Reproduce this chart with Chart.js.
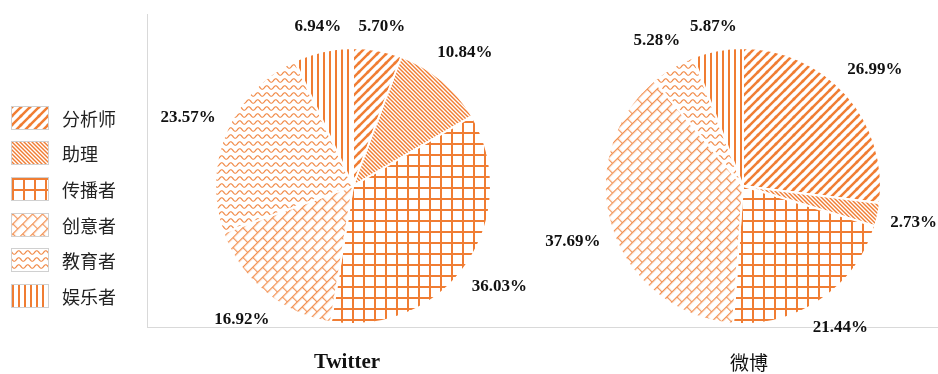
<!DOCTYPE html>
<html>
<head>
<meta charset="utf-8">
<script src="https://cdn.jsdelivr.net/npm/chart.js@4"></script>
<style>
  body { margin: 0; background: #fff; width: 938px; height: 374px; overflow: hidden; position: relative; }
  #frame { position: absolute; left: 147px; top: 14px; width: 791px; height: 313px;
           border-left: 1px solid #d9d9d9; border-bottom: 1px solid #d9d9d9; }
  canvas.pie { position: absolute; top: 0; }
  #legend { position: absolute; left: 11px; top: 100px; }
  .row { display: flex; align-items: center; height: 35.6px; }
  .row canvas { border: 1px solid #d0d0d0; box-sizing: border-box; }
  .row span { margin-left: 13px; font: 18px "Noto Sans CJK SC"; color: #222; }
  .title { position: absolute; top: 349px; transform: translateX(-50%); color: #111; }
</style>
</head>
<body>
<div id="frame"></div>
<div id="legend"></div>
<canvas id="twitterChart" class="pie" width="420" height="372" style="left:143px"></canvas>
<canvas id="weiboChart" class="pie" width="450" height="372" style="left:488px"></canvas>
<div class="title" style="left:347px; font: bold 21px 'Liberation Serif';">Twitter</div>
<div class="title" style="left:749px; top:348px; font: 19px 'Noto Sans CJK SC';">微博</div>

<script>
const roles = ['分析师', '助理', '传播者', '创意者', '教育者', '娱乐者'];
const twitterShare = [5.70, 10.84, 36.03, 16.92, 23.57, 6.94];
const weiboShare = [26.99, 2.73, 21.44, 37.69, 5.28, 5.87];

const orange = '#f07d33';

// build one tile per role and turn it into a pattern
const makeTile = (w, h, draw) => {
  const c = document.createElement('canvas');
  c.width = w; c.height = h;
  const ctx = c.getContext('2d');
  ctx.strokeStyle = orange;
  ctx.lineCap = 'square';
  draw(ctx, w, h);
  return c;
};

const tiles = [
  // forward diagonal, thick
  makeTile(9, 9, (ctx, w, h) => {
    ctx.lineWidth = 2.5;
    [[0, h, w, 0], [-w, h, 0, 0], [w, h, 2 * w, 0], [0, 2 * h, w, h], [0, 0, w, -h]].forEach(l => {
      ctx.beginPath(); ctx.moveTo(l[0], l[1]); ctx.lineTo(l[2], l[3]); ctx.stroke();
    });
  }),
  // back diagonal, thin and dense
  makeTile(4, 4, (ctx, w, h) => {
    ctx.lineWidth = 1.4;
    [[0, 0, w, h], [-w, 0, 0, h], [w, 0, 2 * w, h]].forEach(l => {
      ctx.beginPath(); ctx.moveTo(l[0], l[1]); ctx.lineTo(l[2], l[3]); ctx.stroke();
    });
  }),
  // grid
  makeTile(11, 11, (ctx, w, h) => {
    ctx.fillStyle = orange;
    ctx.fillRect(0, 0, w, 2);
    ctx.fillRect(0, 0, 2, h);
  }),
  // bricks (rotated later)
  makeTile(14, 14, (ctx, w, h) => {
    ctx.lineWidth = 1.1;
    ctx.lineCap = 'butt';
    ctx.globalAlpha = 0.85;
    ctx.beginPath();
    ctx.moveTo(0, 0.6); ctx.lineTo(w, 0.6);
    ctx.moveTo(0, 7.6); ctx.lineTo(w, 7.6);
    ctx.moveTo(0.6, 0); ctx.lineTo(0.6, 7);
    ctx.moveTo(7.6, 7); ctx.lineTo(7.6, 14);
    ctx.stroke();
  }),
  // waves
  makeTile(9, 7, (ctx, w, h) => {
    ctx.lineWidth = 1.2;
    ctx.lineCap = 'butt';
    ctx.globalAlpha = 0.9;
    ctx.beginPath();
    for (let x = -1; x <= w + 1; x += 0.5) {
      const y = 3.5 + 1.8 * Math.sin(x / w * Math.PI * 2);
      if (x === -1) ctx.moveTo(x, y); else ctx.lineTo(x, y);
    }
    ctx.stroke();
  }),
  // vertical lines
  makeTile(6.5, 6, (ctx, w, h) => {
    ctx.fillStyle = orange;
    ctx.fillRect(0, 0, 2, h);
  }),
];

const makePatterns = (ctx) => tiles.map((t, i) => {
  const p = ctx.createPattern(t, 'repeat');
  if (i === 3) p.setTransform(new DOMMatrix().rotate(-45));
  return p;
});

// legend as html, boxes filled with the same patterns
const legend = document.getElementById('legend');
roles.forEach((name, i) => {
  const row = document.createElement('div');
  row.className = 'row';
  const box = document.createElement('canvas');
  box.width = 36; box.height = 22;
  const bctx = box.getContext('2d');
  bctx.fillStyle = makePatterns(bctx)[i];
  bctx.fillRect(0, 0, 36, 22);
  const label = document.createElement('span');
  label.textContent = name;
  row.appendChild(box);
  row.appendChild(label);
  legend.appendChild(row);
});

// percentage labels just outside each slice
const outsideLabels = {
  id: 'outsideLabels',
  afterDatasetsDraw(chart) {
    const ctx = chart.ctx;
    const meta = chart.getDatasetMeta(0);
    const values = chart.data.datasets[0].data;
    ctx.save();
    ctx.font = 'bold 17px "Liberation Serif"';
    ctx.fillStyle = '#111';
    ctx.textAlign = 'center';
    ctx.textBaseline = 'middle';
    meta.data.forEach((arc, i) => {
      const { x, y, startAngle, endAngle, outerRadius } = arc.getProps(['x', 'y', 'startAngle', 'endAngle', 'outerRadius'], true);
      const mid = (startAngle + endAngle) / 2;
      const text = values[i].toFixed(2) + '%';
      const w = ctx.measureText(text).width;
      const h = 16;
      const cx = Math.cos(mid), cy = Math.sin(mid);
      const d = outerRadius + 12 + (w / 2) * Math.abs(cx) + (h / 2) * Math.abs(cy);
      ctx.fillText(text, x + d * cx, y + d * cy);
    });
    ctx.restore();
  }
};

const makePie = (id, values, padLeft) => {
  const canvas = document.getElementById(id);
  const patterns = makePatterns(canvas.getContext('2d'));
  return new Chart(canvas, {
    type: 'pie',
    data: {
      labels: roles,
      datasets: [{
        data: values,
        backgroundColor: patterns,
        borderColor: '#ffffff',
        borderWidth: 2,
      }]
    },
    options: {
      responsive: false,
      animation: false,
      radius: 138,
      layout: { padding: { left: padLeft, right: 0, top: 0, bottom: 0 } },
      plugins: {
        legend: { display: false },
        tooltip: { enabled: false }
      }
    },
    plugins: [outsideLabels]
  });
};

makePie('twitterChart', twitterShare, 0);
makePie('weiboChart', weiboShare, 60);
</script>
</body>
</html>
